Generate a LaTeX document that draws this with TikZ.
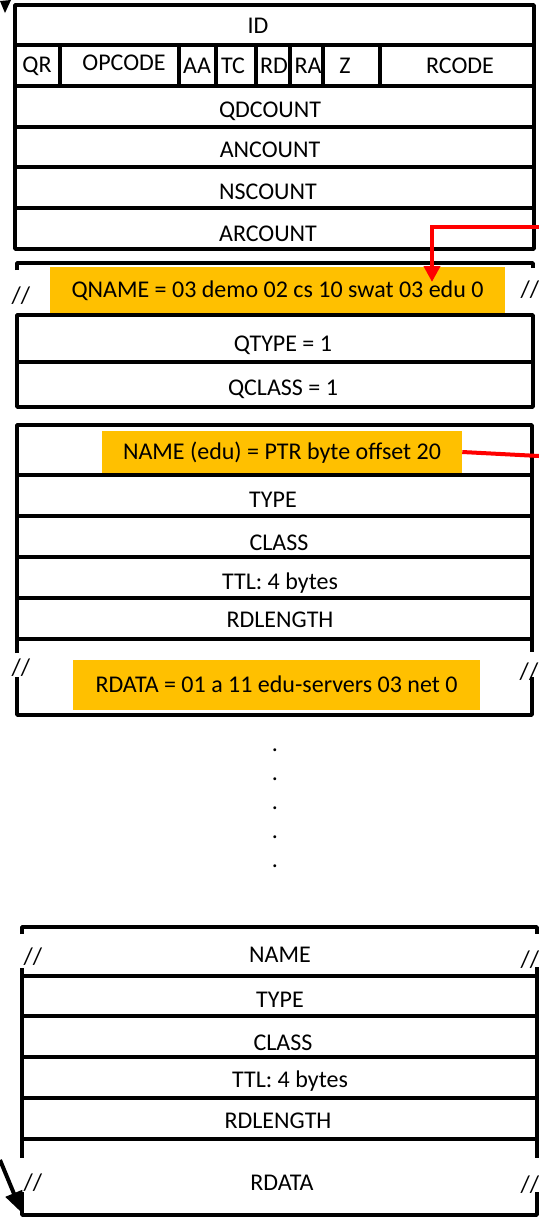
\documentclass[tikz,border=0pt]{standalone}
\usepackage{fontspec}
\setmainfont{Carlito}
\usetikzlibrary{arrows.meta}
\definecolor{gold}{RGB}{255,192,0}
\begin{document}
\begin{tikzpicture}[x=0.75pt,y=-0.75pt,
  frame/.style={line width=2.6pt, line join=round},
  lbl/.style={font=\fontsize{18}{21}\selectfont, inner sep=0pt, text height=11.6pt, text depth=0pt},
  hilite/.style={lbl, fill=gold, anchor=center},
  ptr/.style={draw=red, line width=3pt},
  blackarrow/.style={line width=3pt, -{Triangle[length=16pt,width=13pt]}},
]
\useasboundingbox (0,0) rectangle (539,1218);
\clip (0,0) rectangle (539,1218);

% ---------- header ----------
\draw[frame] (15,5) rectangle (534,249);
\foreach \y in {45,86,127,167,208} \draw[frame] (15,\y) -- (534,\y);
\foreach \x in {60,179,216,256,290,323,380} \draw[frame] (\x,45) -- (\x,86);
\node[lbl] (id) at (258,26) {ID};
\node[lbl] (qr) at (37,65) {QR};
\node[lbl] (opcode) at (124,63) {OPCODE};
\node[lbl] (aa) at (197,66) {AA};
\node[lbl] (tc) at (233,66) {TC};
\node[lbl] (rd) at (274,66) {RD};
\node[lbl] (ra) at (308,66) {RA};
\node[lbl] (z) at (345,66) {Z};
\node[lbl] (rcode) at (460,66) {RCODE};
\node[lbl] (qdcount) at (270,110) {QDCOUNT};
\node[lbl] (ancount) at (270,150) {ANCOUNT};
\node[lbl] (nscount) at (268,192) {NSCOUNT};
\node[lbl] (arcount) at (268,234) {ARCOUNT};

% ---------- question ----------
\draw[frame] (17,270) -- (17,263) -- (533,263) -- (533,268);
\draw[frame] (17,315) rectangle (533,407);
\draw[frame] (17,362) -- (533,362);
\node[hilite, minimum width=341.25pt, minimum height=34.5pt] (qname) at (277.5,290) {QNAME = 03 demo 02 cs 10 swat 03 edu 0};
\node[lbl] (qbl) at (21,296) {//};
\node[lbl] (qbr) at (530,290) {//};
\node[lbl] (qtype) at (283,344) {QTYPE = 1};
\node[lbl] (qclass) at (283,388) {QCLASS = 1};

% ---------- first answer ----------
\draw[frame] (17,653) -- (17,425) -- (532,425) -- (532,652);
\draw[frame] (17,677) -- (17,715) -- (532,715) -- (532,677);
\foreach \y in {475,516,557,598,639} \draw[frame] (17,\y) -- (532,\y);
\node[hilite, minimum width=270pt, minimum height=31.5pt] (nameptr) at (282,452) {NAME (edu) = PTR byte offset 20};
\node[lbl] (type1) at (273,500) {TYPE};
\node[lbl] (class1) at (279,543) {CLASS};
\node[lbl] (ttl1) at (280,582) {TTL: 4 bytes};
\node[lbl] (rdlen1) at (280,620) {RDLENGTH};
\node[hilite, minimum width=305.25pt, minimum height=37.5pt] (rdata1) at (276.5,685) {RDATA = 01 a 11 edu-servers 03 net 0};
\node[lbl] (abl) at (21,668) {//};
\node[lbl] (abr) at (529,672) {//};

% ---------- dots ----------
\foreach \y [count=\i] in {750,779,808,837,866}
  \node[lbl, text height=, anchor=base] (dot\i) at (275,\y+1.5) {.};

% ---------- last answer ----------
\draw[frame] (22,934) -- (22,927) -- (537,927) -- (537,934);
\draw[frame] (22,968) -- (22,1158);
\draw[frame] (537,967) -- (537,1158);
\draw[frame] (22,1192) -- (22,1215) -- (537,1215) -- (537,1192);
\foreach \y in {976,1016,1057,1098,1139} \draw[frame] (22,\y) -- (537,\y);
\node[lbl] (name2) at (280,955) {NAME};
\node[lbl] (type2) at (280,1000) {TYPE};
\node[lbl] (class2) at (283,1043) {CLASS};
\node[lbl] (ttl2) at (290,1080) {TTL: 4 bytes};
\node[lbl] (rdlen2) at (278,1121) {RDLENGTH};
\node[lbl] (rdata2) at (282,1183) {RDATA};
\node[lbl] (lbl1) at (33,957) {//};
\node[lbl] (lbl2) at (33,1183) {//};
\node[lbl] (lbr1) at (530,960) {//};
\node[lbl] (lbr2) at (530,1185) {//};

% ---------- pointers ----------
\coordinate (offr) at (539,227);
\coordinate (edutip) at (432,282);
\draw[ptr, -{Triangle[length=12pt,width=12pt]}] (offr) -| (edutip);
\coordinate (offr2) at (539,456);
\draw[ptr] (nameptr.east) -- (offr2);

\coordinate (blA) at (0,1160);
\coordinate (blB) at (22,1213);
\draw[blackarrow] (blA) -- (blB);
\fill (0,1) -- (11,0) -- (5,13) -- cycle;
\end{tikzpicture}
\end{document}
